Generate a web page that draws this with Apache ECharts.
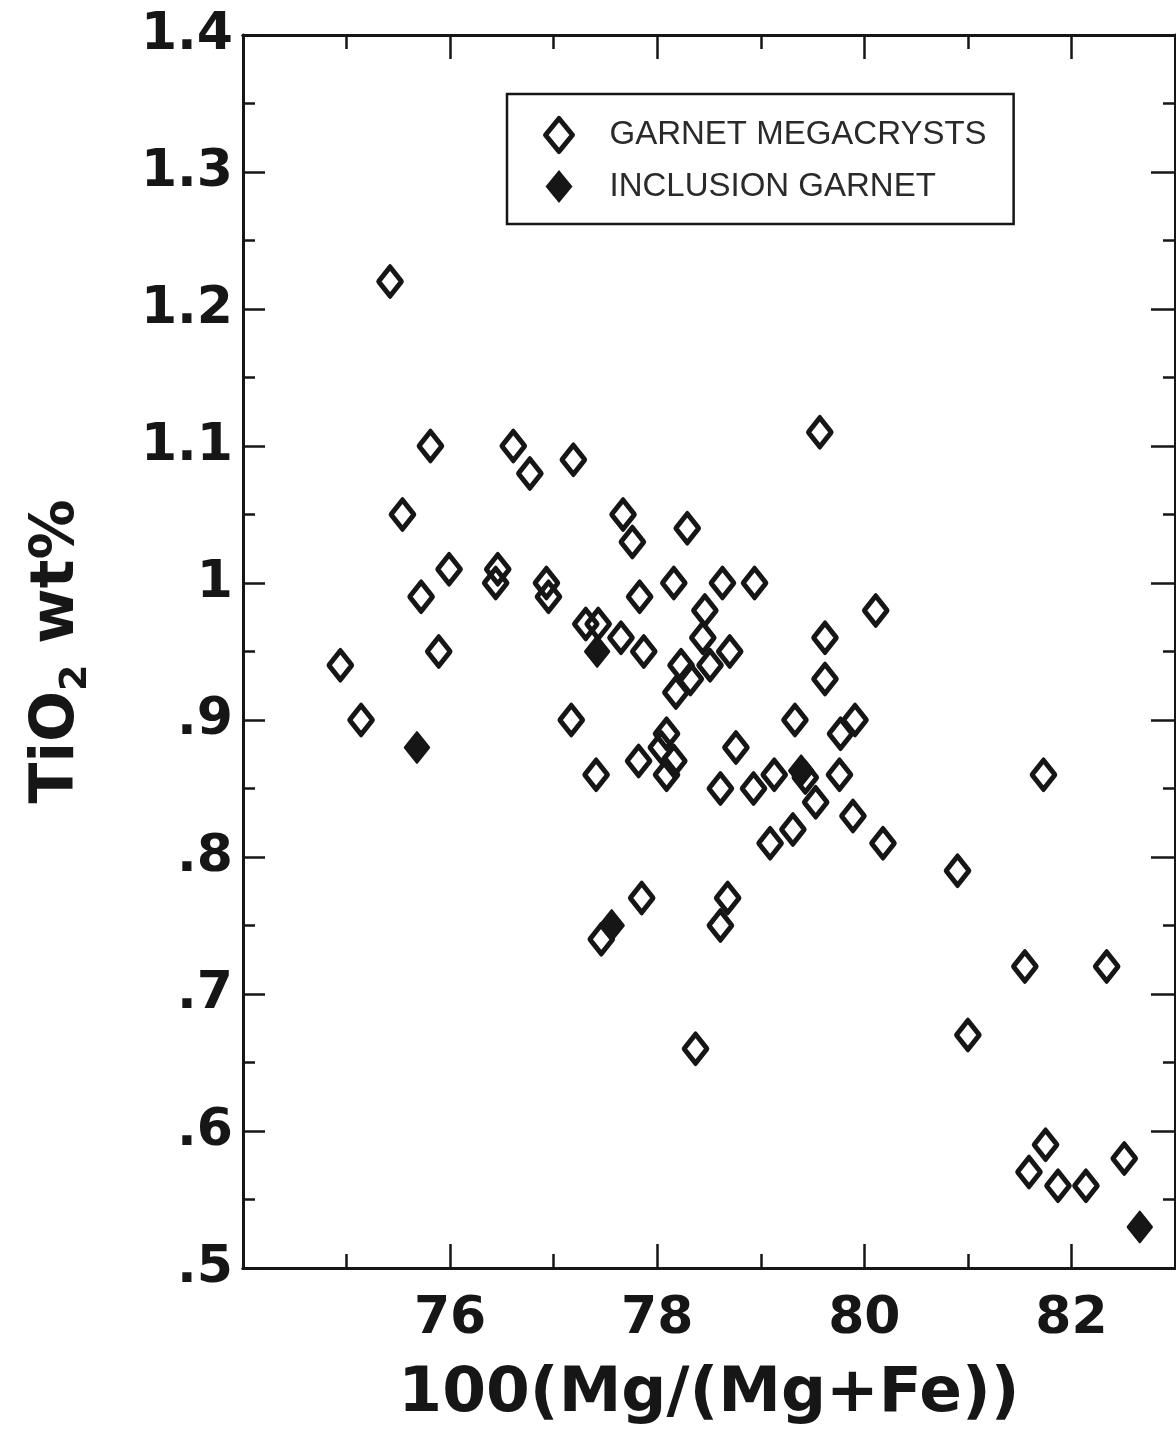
<!DOCTYPE html>
<html>
<head>
<meta charset="utf-8">
<title>TiO2 vs 100(Mg/(Mg+Fe))</title>
<script src="https://cdn.jsdelivr.net/npm/echarts@6/dist/echarts.min.js"></script>
<style>
  html, body { margin: 0; padding: 0; background: #ffffff; }
  #chart { width: 1176px; height: 1442px; }
</style>
</head>
<body>
<div id="chart"></div>
<script>
// Garnet megacrysts: [100(Mg/(Mg+Fe)), TiO2 wt%]
const megacrysts = [
  [75.42, 1.22], [75.81, 1.10], [75.54, 1.05], [76.61, 1.10], [76.77, 1.08],
  [77.19, 1.09], [79.57, 1.11], [77.67, 1.05], [77.76, 1.03], [78.29, 1.04],
  [75.99, 1.01], [75.72, 0.99], [76.46, 1.01], [76.44, 1.00], [76.93, 1.00],
  [76.95, 0.99], [77.83, 0.99], [78.16, 1.00], [78.63, 1.00], [78.94, 1.00],
  [78.46, 0.98], [80.11, 0.98], [77.31, 0.97], [77.43, 0.97], [77.65, 0.96],
  [78.44, 0.96], [79.62, 0.96], [75.89, 0.95], [77.87, 0.95], [78.70, 0.95],
  [74.94, 0.94], [78.23, 0.94], [78.51, 0.94], [78.32, 0.93], [78.18, 0.92],
  [79.62, 0.93], [75.14, 0.90], [77.17, 0.90], [79.33, 0.90], [79.91, 0.90],
  [79.77, 0.89], [78.09, 0.89], [78.04, 0.88], [78.16, 0.87], [78.09, 0.86],
  [78.76, 0.88], [77.82, 0.87], [77.41, 0.86], [78.61, 0.85], [78.93, 0.85],
  [79.13, 0.86], [79.43, 0.858], [79.76, 0.86], [79.53, 0.84], [79.89, 0.83],
  [79.31, 0.82], [79.09, 0.81], [80.18, 0.81], [80.90, 0.79], [81.73, 0.86],
  [77.85, 0.77], [78.68, 0.77], [78.61, 0.75], [77.46, 0.74], [78.37, 0.66],
  [81.55, 0.72], [82.34, 0.72], [81.00, 0.67], [81.75, 0.59], [81.59, 0.57],
  [81.87, 0.56], [82.14, 0.56], [82.51, 0.58]
];

// Garnet inclusions
const inclusions = [
  [75.68, 0.88], [77.42, 0.95], [77.56, 0.75], [79.39, 0.863], [82.66, 0.53]
];

// Axis ranges and ticks
const xMin = 74, xMax = 83;
const xMajorTicks = [76, 78, 80, 82];
const xMinorTicks = [75, 77, 79, 81];
const yMin = 0.5, yMax = 1.4, yStep = 0.1;
const yTickValues = [0.5, 0.6, 0.7, 0.8, 0.9, 1.0, 1.1, 1.2, 1.3, 1.4];
const yTickLabels = ['.5', '.6', '.7', '.8', '.9', '1', '1.1', '1.2', '1.3', '1.4'];

const seriesNames = ['GARNET MEGACRYSTS', 'INCLUSION GARNET'];
const xTitle = '100(Mg/(Mg+Fe))';

const ink = '#161616';
const font = 'DejaVu Sans';

function yLabel(v) {
  const i = yTickValues.findIndex(t => Math.abs(t - v) < 1e-6);
  return i >= 0 ? yTickLabels[i] : '';
}

const frameLine = { show: true, lineStyle: { color: ink, width: 3 } };
const tickLine = { color: ink, width: 2.5 };

function xAxisBase(position, ticks, len, extra) {
  return Object.assign({
    type: 'value', min: xMin, max: xMax, position: position,
    axisLine: frameLine,
    axisTick: { show: true, inside: true, length: len, customValues: ticks, lineStyle: tickLine },
    axisLabel: { show: false },
    splitLine: { show: false },
    minorTick: { show: false },
    minorSplitLine: { show: false }
  }, extra || {});
}

const chart = echarts.init(document.getElementById('chart'), null, { renderer: 'canvas' });

chart.setOption({
  animation: false,
  backgroundColor: '#ffffff',
  grid: {
    left: 243, right: 1, top: 35, bottom: 174,
    containLabel: false, outerBoundsMode: 'none'
  },
  xAxis: [
    xAxisBase('bottom', xMajorTicks, 24, {
      axisLabel: {
        show: true, customValues: xMajorTicks,
        fontFamily: font, fontSize: 52, fontWeight: 'bold', color: ink, margin: 25
      },
      name: xTitle, nameLocation: 'middle', nameGap: 95,
      nameTextStyle: { fontFamily: font, fontSize: 63, fontWeight: 'bold', color: ink, lineHeight: 63 }
    }),
    xAxisBase('bottom', xMinorTicks, 14),
    xAxisBase('top', xMajorTicks, 24),
    xAxisBase('top', xMinorTicks, 14)
  ],
  yAxis: [
    {
      type: 'value', min: yMin, max: yMax, interval: yStep, position: 'left',
      axisLine: frameLine,
      axisTick: { show: true, inside: true, length: 22, lineStyle: tickLine },
      minorTick: { show: true, splitNumber: 2, length: 12, lineStyle: tickLine },
      splitLine: { show: false }, minorSplitLine: { show: false },
      axisLabel: {
        formatter: yLabel, fontFamily: font, fontSize: 52, fontWeight: 'bold',
        color: ink, margin: 10
      },
      name: '{m|TiO}{s|2}{m| wt%}',
      nameLocation: 'middle', nameGap: 148,
      nameTextStyle: {
        rich: {
          m: { fontFamily: font, fontSize: 60, fontWeight: 'bold', color: ink, lineHeight: 76 },
          s: { fontFamily: font, fontSize: 38, fontWeight: 'bold', color: ink, lineHeight: 38, verticalAlign: 'bottom' }
        }
      }
    },
    {
      type: 'value', min: yMin, max: yMax, interval: yStep, position: 'right',
      axisLine: frameLine,
      axisTick: { show: true, inside: true, length: 24, lineStyle: tickLine },
      minorTick: { show: true, splitNumber: 2, length: 12, lineStyle: tickLine },
      splitLine: { show: false }, minorSplitLine: { show: false },
      axisLabel: { show: false }
    }
  ],
  legend: {
    orient: 'vertical',
    left: 507, top: 94,
    padding: [22, 27, 21, 36],
    itemWidth: 27, itemHeight: 33, itemGap: 16,
    borderColor: ink, borderWidth: 2.5, borderRadius: 0,
    backgroundColor: 'rgba(0,0,0,0)',
    selectedMode: false,
    textStyle: {
      fontFamily: 'Liberation Sans', fontSize: 33, color: '#2a2a2a',
      padding: [0, 0, 0, 32]
    },
    data: [
      { name: seriesNames[0], icon: 'diamond',
        itemStyle: { color: 'rgba(0,0,0,0)', borderColor: ink, borderWidth: 5, opacity: 1 } },
      { name: seriesNames[1], icon: 'diamond',
        itemStyle: { color: ink, borderColor: ink, borderWidth: 0, opacity: 1 } }
    ]
  },
  series: [
    {
      name: seriesNames[0], type: 'scatter', data: megacrysts,
      xAxisIndex: 0, yAxisIndex: 0,
      symbol: 'diamond', symbolSize: [23, 29],
      itemStyle: { color: 'rgba(0,0,0,0)', borderColor: ink, borderWidth: 5, borderJoin: 'round', opacity: 1 },
      emphasis: { disabled: true }, z: 3
    },
    {
      name: seriesNames[1], type: 'scatter', data: inclusions,
      xAxisIndex: 0, yAxisIndex: 0,
      symbol: 'diamond', symbolSize: [24, 30],
      itemStyle: { color: ink, borderColor: ink, borderWidth: 2.5, borderJoin: 'round', opacity: 1 },
      emphasis: { disabled: true }, z: 4
    }
  ]
});
</script>
</body>
</html>
